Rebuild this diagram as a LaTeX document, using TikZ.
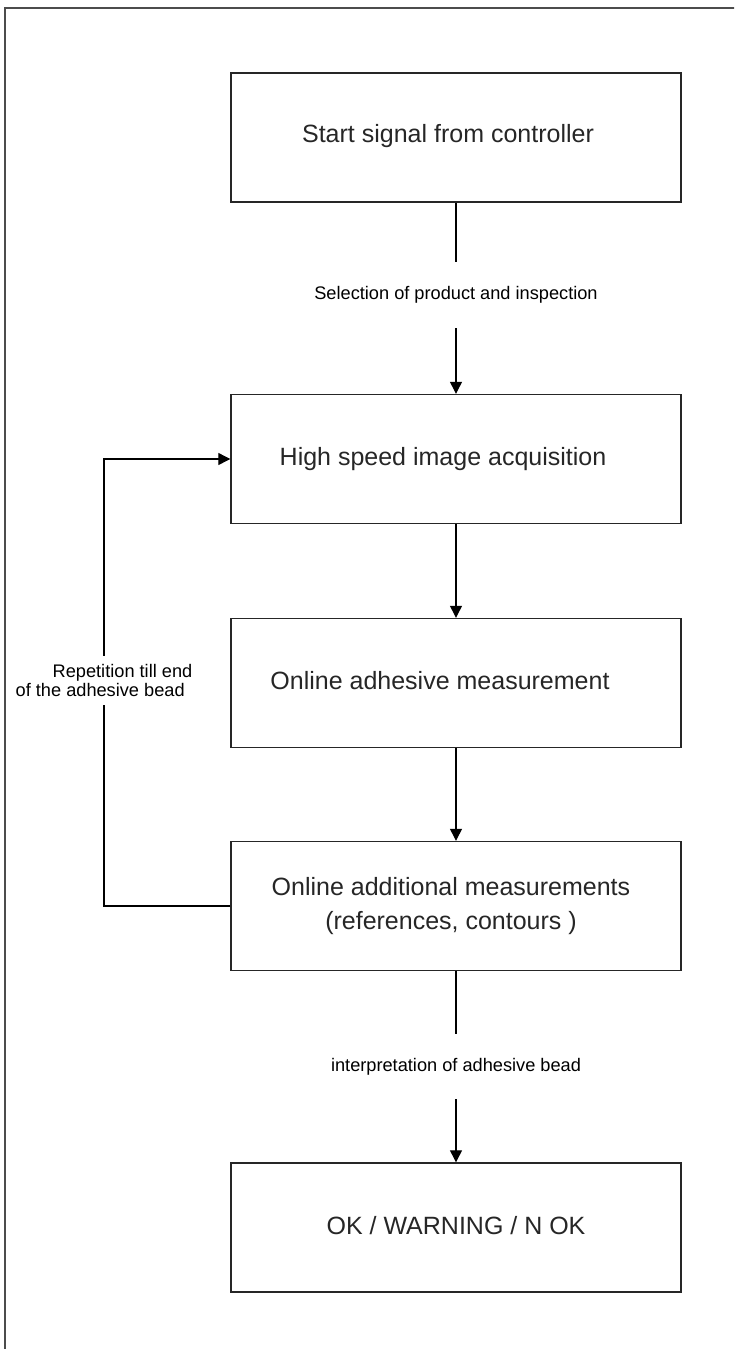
\documentclass[tikz,border=0pt]{standalone}
\usepackage{fontspec}
\setmainfont{Liberation Sans}
\usetikzlibrary{arrows.meta}
\begin{document}
\begin{tikzpicture}[x=1pt,y=-1pt,
  box/.style={draw=black!85, line width=1.4pt, minimum width=450pt, minimum height=129pt, inner sep=0pt},
  boxtext/.style={font=\fontsize{25}{34}\selectfont, align=center, text=black!85, inner sep=0pt},
  flowlabel/.style={font=\fontsize{18.2}{19}\selectfont, inner sep=0pt, text=black},
  conn/.style={line width=1.2pt, draw=black},
  arr/.style={conn, -{Triangle[length=12pt,width=12pt]}}]
\useasboundingbox (0,0) rectangle (734,1349);
\clip (0,0) rectangle (734,1349);
% outer frame, running off the page to the right and bottom
\draw[line width=2pt, draw=black!70] (5,8) rectangle (1000,1500);

% process boxes
\node[box] (b1) at (456,137.5) {};
\node[box] (b2) at (456,459) {};
\node[box] (b3) at (456,683) {};
\node[box] (b4) at (456,906) {};
\node[box] (b5) at (456,1227.5) {};

% box texts
\node[boxtext] (t1) at (448,136) {Start signal from controller};
\node[boxtext] (t2) at (443,459) {High speed image acquisition};
\node[boxtext] (t3) at (440,681) {Online adhesive measurement};
\node[boxtext] (t4) at (451,906) {Online additional measurements\\(references, contours~)};
\node[boxtext] (t5) at (456,1226) {OK / WARNING / N OK};

% connector labels
\node[flowlabel, minimum height=66pt] (l1) at (456,295) {Selection of product and inspection};
\node[flowlabel, minimum height=65pt] (l2) at (456,1066.5) {interpretation of adhesive bead};
\node[flowlabel, minimum height=49pt, align=left] (rl) at (104,680.5)
  {\hspace*{37pt}Repetition till end\\of the adhesive bead};

% main flow
\draw[conn] (b1.south) -- (l1.north);
\draw[arr] (l1.south) -- (b2.north);
\draw[arr] (b2.south) -- (b3.north);
\draw[arr] (b3.south) -- (b4.north);
\draw[conn] (b4.south) -- (l2.north);
\draw[arr] (l2.south) -- (b5.north);

% repetition loop
\draw[conn] (b4.west) -| (rl.south);
\draw[arr] (rl.north) |- (b2.west);
\end{tikzpicture}
\end{document}
